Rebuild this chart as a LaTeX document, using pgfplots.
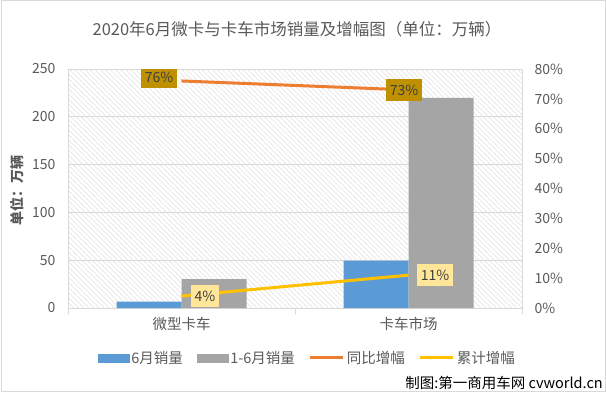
\documentclass[border=0pt]{standalone}
\usepackage{fontspec}
\setmainfont{Noto Sans CJK SC}
\usepackage{pgfplots}
\pgfplotsset{compat=1.18}
\usetikzlibrary{patterns.meta}
\definecolor{cblue}{HTML}{5B9BD5}
\definecolor{cgray}{HTML}{A5A5A5}
\definecolor{corange}{HTML}{ED7D31}
\definecolor{cyellow}{HTML}{FFC000}
\definecolor{gridgray}{HTML}{D9D9D9}
\definecolor{hatch}{HTML}{E4E4E4}
\definecolor{txtgray}{HTML}{595959}
\definecolor{lblgold}{HTML}{BF9000}
\definecolor{lblyel}{HTML}{FFE699}
\begin{document}
\begin{tikzpicture}
\useasboundingbox (0,0) rectangle (606pt,392pt);
\draw[gridgray, line width=1pt] (1pt,1pt) rectangle (605pt,391pt);
% title
\node[text=txtgray, font=\fontsize{16.5pt}{18pt}\selectfont] at (297pt,363pt) {2020年6月微卡与卡车市场销量及增幅图（单位：万辆）};
% y label
\node[rotate=90, text=txtgray, font=\fontsize{14pt}{16pt}\selectfont\bfseries] at (17pt,202pt) {单位：万辆};
% watermark
\node[fill=white, inner sep=1pt, text=black, font=\fontsize{14.5pt}{16pt}\selectfont, anchor=east] at (604pt,9pt) {制图:第一商用车网 cvworld.cn};

\begin{axis}[
  at={(68pt,84pt)}, anchor=south west, scale only axis,
  width=454pt, height=239pt,
  xmin=-0.5, xmax=1.5, ymin=0, ymax=250,
  ytick={0,50,...,250},
  xtick={0,1}, xticklabels={微型卡车,卡车市场},
  minor xtick={-0.5,0.5,1.5},
  xtick pos=bottom, ytick pos=left,
  tick align=outside,
  major tick length=0pt, minor tick length=6pt,
  minor tick style={gridgray, line width=1pt},
  ybar=0pt, bar width=65pt,
  ymajorgrids, grid style={gridgray, line width=1pt},
  axis line style={gridgray, line width=1pt},
  axis background/.style={pattern={Lines[angle=-45,distance=3.6pt,line width=0.7pt]}, pattern color=hatch},
  /pgf/number format/assume math mode=true,
  tick label style={text=txtgray, font=\fontsize{14pt}{16pt}\selectfont},
  yticklabel style={xshift=-9pt},
  xticklabel style={yshift=-6pt, font=\fontsize{14.5pt}{16pt}\selectfont},
]
\addplot[fill=cblue, draw=none] coordinates {(0,6.6) (1,49.5)};
\addplot[fill=cgray, draw=none] coordinates {(0,30.3) (1,219.8)};
\end{axis}

\begin{axis}[
  at={(68pt,84pt)}, anchor=south west, scale only axis,
  width=454pt, height=239pt,
  xmin=-0.5, xmax=1.5, ymin=0, ymax=80,
  ytick={0,10,...,80},
  axis x line=none, axis y line*=right,
  axis line style={draw=none},
  major tick length=0pt,
  yticklabel={\pgfmathprintnumber{\tick}\%},
  /pgf/number format/assume math mode=true,
  tick label style={text=txtgray, font=\fontsize{14pt}{16pt}\selectfont},
  yticklabel style={xshift=9pt},
  legend columns=4,
  legend style={at={(0.5275,-0.209)}, anchor=center, draw=none, fill=none,
    font=\fontsize{14.5pt}{16pt}\selectfont, text=txtgray,
    /tikz/every even column/.append style={column sep=12pt},
    inner sep=0pt},
]
\addlegendimage{legend image code/.code={\fill[cblue] (0pt,-4pt) rectangle (31pt,4pt);}}
\addlegendentry{6月销量}
\addlegendimage{legend image code/.code={\fill[cgray] (0pt,-4pt) rectangle (31pt,4pt);}}
\addlegendentry{1-6月销量}
\addplot[corange, line width=3pt, mark=none, legend image code/.code={\draw[corange, line width=3pt] (0pt,0pt) -- (33pt,0pt);}] coordinates {(0,76) (1,73)};
\addlegendentry{同比增幅}
\addplot[cyellow, line width=3pt, mark=none, legend image code/.code={\draw[cyellow, line width=3pt] (0pt,0pt) -- (33pt,0pt);}] coordinates {(0,4) (1,11)};
\addlegendentry{累计增幅}
\tikzset{lbl/.style={text=black!75, font=\fontsize{14pt}{16pt}\selectfont, minimum height=22pt, inner xsep=4pt, inner ysep=0pt}}
\node[lbl, fill=lblgold, xshift=-22.5pt, yshift=3.7pt] at (axis cs:0,76) {76\%};
\node[lbl, fill=lblgold, xshift=-4.5pt] at (axis cs:1,73) {73\%};
\node[lbl, fill=lblyel, xshift=23.5pt] at (axis cs:0,4) {4\%};
\node[lbl, fill=lblyel, xshift=26.5pt] at (axis cs:1,11) {11\%};
\end{axis}
\end{tikzpicture}
\end{document}
